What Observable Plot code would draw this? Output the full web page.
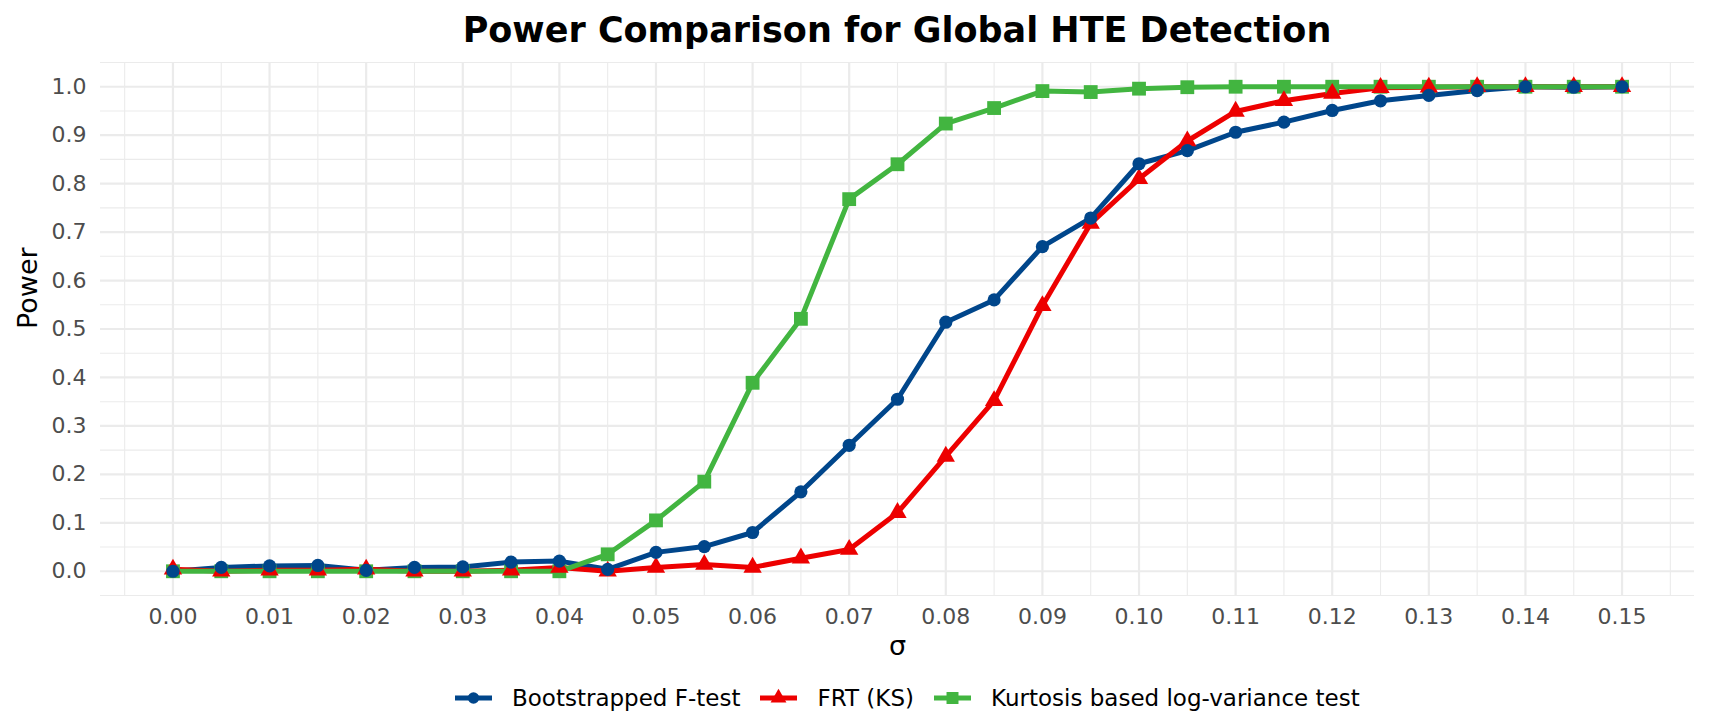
<!DOCTYPE html>
<html>
<head>
<meta charset="utf-8">
<script src="https://cdn.jsdelivr.net/npm/d3@7"></script>
<script src="https://cdn.jsdelivr.net/npm/@observablehq/plot@0.6"></script>
<style>
  html, body { margin: 0; padding: 0; background: #fff; }
  body { width: 1710px; height: 724px; overflow: hidden; font-family: "DejaVu Sans", sans-serif; }
  #title { height: 58px; line-height: 60px; padding-left: 100px; padding-right: 16px; text-align: center;
           font-weight: bold; font-size: 35px; color: #000; }
  #legend { height: 52px; display: flex; align-items: center; justify-content: flex-start; padding-left: 455px;
            font-size: 23px; color: #000; }
  .item { display: flex; align-items: center; margin-right: 20px; }
  .item svg { margin-right: 20px; }
</style>
</head>
<body>
<div id="title">Power Comparison for Global HTE Detection</div>
<div id="chart"></div>
<div id="legend"></div>
<script>
const sigma = [0.000,0.005,0.010,0.015,0.020,0.025,0.030,0.035,0.040,0.045,0.050,0.055,0.060,0.065,0.070,0.075,
               0.080,0.085,0.090,0.095,0.100,0.105,0.110,0.115,0.120,0.125,0.130,0.135,0.140,0.145,0.150];
const bootF = [0.000,0.008,0.011,0.012,0.002,0.008,0.009,0.019,0.021,0.004,0.039,0.051,0.080,0.164,0.260,0.355,
               0.514,0.560,0.670,0.729,0.841,0.868,0.906,0.927,0.951,0.971,0.982,0.992,1.000,0.999,1.000];
const frtKS = [0.004,0.000,0.002,0.002,0.004,0.000,0.000,0.002,0.008,0.000,0.008,0.014,0.008,0.027,0.045,0.121,
               0.237,0.352,0.548,0.718,0.810,0.888,0.949,0.971,0.986,0.998,0.999,1.000,1.000,1.000,1.000];
const kurt  = [0.000,0.000,0.000,0.000,0.000,0.000,0.000,0.000,0.000,0.035,0.105,0.185,0.389,0.521,0.768,0.840,
               0.924,0.956,0.991,0.989,0.996,0.999,1.000,1.000,1.000,1.000,1.000,1.000,1.000,1.000,1.000];
const seriesNames = ["Bootstrapped F-test", "FRT (KS)", "Kurtosis based log-variance test"];
const seriesColors = ["#00468B", "#ED0000", "#42B540"];
const seriesSymbols = ["circle", "triangle", "square"];
const xTicks = [0.00,0.01,0.02,0.03,0.04,0.05,0.06,0.07,0.08,0.09,0.10,0.11,0.12,0.13,0.14,0.15];
const xMinor = [-0.005,0.005,0.015,0.025,0.035,0.045,0.055,0.065,0.075,0.085,0.095,0.105,0.115,0.125,0.135,0.145,0.155];
const yTicks = [0.0,0.1,0.2,0.3,0.4,0.5,0.6,0.7,0.8,0.9,1.0];
const yMinor = [-0.05,0.05,0.15,0.25,0.35,0.45,0.55,0.65,0.75,0.85,0.95,1.05];

const allValues = [bootF, frtKS, kurt];
const rows = [];
allValues.forEach((vals, i) => vals.forEach((v, j) => rows.push({sigma: sigma[j], power: v, method: seriesNames[i]})));
const bySeries = name => rows.filter(d => d.method === name);

const rSizes = {circle: 6.6, triangle: 6.8, square: 7.8};
const lineMark = i => Plot.line(bySeries(seriesNames[i]), {x: "sigma", y: "power", stroke: seriesColors[i], strokeWidth: 5});
const dotMark = i => Plot.dot(bySeries(seriesNames[i]), {x: "sigma", y: "power", fill: seriesColors[i], stroke: "none",
                                symbol: seriesSymbols[i], r: rSizes[seriesSymbols[i]]});

const chart = Plot.plot({
  width: 1710,
  height: 614,
  marginTop: 4,
  marginBottom: 77,
  marginLeft: 100,
  marginRight: 16,
  style: {fontFamily: "DejaVu Sans, sans-serif", fontSize: "22px", background: "#fff"},
  x: {domain: [-0.0075, 0.1575]},
  y: {domain: [-0.05, 1.05]},
  marks: [
    Plot.gridX(xMinor, {stroke: "#EBEBEB", strokeOpacity: 1, strokeWidth: 1.1}),
    Plot.gridY(yMinor, {stroke: "#EBEBEB", strokeOpacity: 1, strokeWidth: 1.1}),
    Plot.gridX(xTicks, {stroke: "#EBEBEB", strokeOpacity: 1, strokeWidth: 2.2}),
    Plot.gridY(yTicks, {stroke: "#EBEBEB", strokeOpacity: 1, strokeWidth: 2.2}),
    Plot.axisX(xTicks, {tickSize: 0, tickPadding: 13, tickFormat: d3.format(".2f"), fill: "#4D4D4D", label: null, fontSize: 22}),
    Plot.axisY(yTicks, {tickSize: 0, tickPadding: 14, tickFormat: d3.format(".1f"), fill: "#4D4D4D", label: null, fontSize: 22}),
    Plot.text(["Power"], {text: d => d, frameAnchor: "left", rotate: -90, dx: -72, fontSize: 27, fill: "#000", lineAnchor: "middle"}),
    Plot.text(["σ"], {text: d => d, frameAnchor: "bottom", dy: 51, fontSize: 27, fill: "#000", lineAnchor: "middle"}),
    lineMark(0), lineMark(1), lineMark(2),
    dotMark(2), dotMark(1), dotMark(0)
  ]
});
document.getElementById("chart").appendChild(chart);

// Legend
const legend = document.getElementById("legend");
seriesNames.forEach((name, i) => {
  const item = document.createElement("div");
  item.className = "item";
  const sym = seriesSymbols[i];
  const size = Math.PI * rSizes[sym] * rSizes[sym] * 0.75;
  const path = d3.symbol(sym === "circle" ? d3.symbolCircle : sym === "triangle" ? d3.symbolTriangle : d3.symbolSquare, size)();
  item.innerHTML = `<svg width="37" height="24" viewBox="0 0 37 24">
      <line x1="0" x2="37" y1="12" y2="12" stroke="${seriesColors[i]}" stroke-width="5"/>
      <path d="${path}" transform="translate(18.5,12)" fill="${seriesColors[i]}"/>
    </svg><span>${name}</span>`;
  legend.appendChild(item);
});
</script>
</body>
</html>
